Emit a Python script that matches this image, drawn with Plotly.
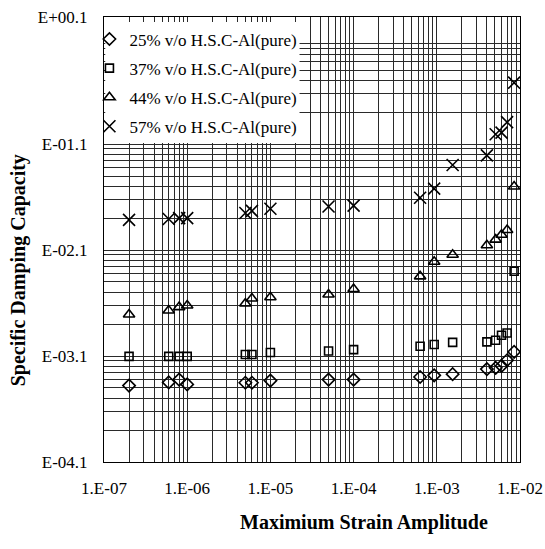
import plotly.graph_objects as go

strain = [2e-7, 6e-7, 8e-7, 1e-6, 5e-6, 6e-6, 1e-5, 5e-5, 1e-4, 6.3e-4, 9.3e-4,
          1.55e-3, 4e-3, 5.1e-3, 6e-3, 7e-3, 8.5e-3]

sdc_25 = [4.18e-4, 4.48e-4, 4.76e-4, 4.29e-4, 4.45e-4, 4.45e-4, 4.66e-4, 4.76e-4, 4.76e-4,
          5.04e-4, 5.22e-4, 5.36e-4, 5.98e-4, 6.15e-4, 6.41e-4, 7.26e-4, 8.69e-4]
sdc_37 = [7.89e-4, 7.89e-4, 7.89e-4, 7.89e-4, 8.22e-4, 8.22e-4, 8.57e-4, 8.87e-4, 9.13e-4,
          9.83e-4, 1.02e-3, 1.07e-3, 1.08e-3, 1.12e-3, 1.25e-3, 1.31e-3, 5.01e-3]
sdc_44 = [1.96e-3, 2.14e-3, 2.30e-3, 2.38e-3, 2.49e-3, 2.77e-3, 2.85e-3, 3.03e-3, 3.41e-3,
          4.49e-3, 6.16e-3, 7.17e-3, 8.82e-3, 9.98e-3, 1.11e-2, 1.23e-2, 3.16e-2]
sdc_57 = [1.53e-2, 1.56e-2, 1.59e-2, 1.59e-2, 1.78e-2, 1.86e-2, 1.95e-2, 2.05e-2, 2.09e-2,
          2.48e-2, 3.02e-2, 5.05e-2, 6.22e-2, 9.86e-2, 1.02e-1, 1.28e-1, 3.02e-1]

series_names = ["25% v/o H.S.C-Al(pure)", "37% v/o H.S.C-Al(pure)",
                "44% v/o H.S.C-Al(pure)", "57% v/o H.S.C-Al(pure)"]

x_tickvals = [1e-7, 1e-6, 1e-5, 1e-4, 1e-3, 1e-2]
x_ticktext = ["1.E-07", "1.E-06", "1.E-05", "1.E-04", "1.E-03", "1.E-02"]
y_exponents = [-4.1, -3.1, -2.1, -1.1, 0.1]
y_ticktext = ["E-04.1", "E-03.1", "E-02.1", "E-01.1", "E+00.1"]

FONT = "Liberation Serif, Times New Roman, serif"
GRID = "#2a2a2a"

y_tickvals = [10 ** e for e in y_exponents]
x_minor = [m * 10 ** n for n in range(-7, -2) for m in range(2, 10)]
y_minor = [m * 10 ** (n - 0.1) for n in range(-4, 0) for m in range(2, 10)]

fig = go.Figure()
styles = [
    dict(symbol="diamond-open", size=9.5),
    dict(symbol="square-open", size=8),
    dict(symbol="triangle-up-open", size=10),
    dict(symbol="x-thin-open", size=12),
]
for name, vals, st in zip(series_names, [sdc_25, sdc_37, sdc_44, sdc_57], styles):
    fig.add_trace(go.Scatter(
        x=strain, y=vals, mode="markers", name=name, legendgroup=name,
        marker=dict(symbol=st["symbol"], size=st["size"], color="black",
                    line=dict(color="black", width=1.6)),
    ))

# white box behind the legend (covers gridlines; no markers lie in this corner)
fig.add_shape(type="rect", xref="paper", yref="paper", x0=0.003, x1=0.47, y0=0.717, y1=0.989,
              fillcolor="white", line=dict(width=0), layer="above")

fig.update_layout(
    width=545, height=549, autosize=False,
    margin=dict(l=104, r=25, t=17, b=87, autoexpand=False),
    paper_bgcolor="white", plot_bgcolor="white",
    font=dict(family=FONT, size=17, color="black"),
    showlegend=True,
    legend=dict(x=-0.035, y=0.99, xanchor="left", yanchor="top",
                bgcolor="rgba(0,0,0,0)", borderwidth=0,
                font=dict(family=FONT, size=17, color="black"),
                tracegroupgap=4, itemwidth=30),
    xaxis=dict(type="log", range=[-7, -2],
               tickmode="array", tickvals=x_tickvals, ticktext=x_ticktext,
               showgrid=True, gridcolor=GRID, gridwidth=1,
               minor=dict(tickmode="array", tickvals=x_minor, showgrid=True,
                          gridcolor=GRID, gridwidth=1, ticks=""),
               showline=True, linecolor="black", linewidth=1, mirror=True,
               ticks="", ticklabelstandoff=11, zeroline=False, automargin=False,
               tickfont=dict(family=FONT, size=17)),
    yaxis=dict(type="log", range=[-4.1, 0.1],
               tickmode="array", tickvals=y_tickvals, ticktext=y_ticktext,
               showgrid=True, gridcolor=GRID, gridwidth=1,
               minor=dict(tickmode="array", tickvals=y_minor, showgrid=True,
                          gridcolor=GRID, gridwidth=1, ticks=""),
               showline=True, linecolor="black", linewidth=1, mirror=True,
               ticks="", ticklabelstandoff=12, zeroline=False, automargin=False,
               tickfont=dict(family=FONT, size=17)),
    annotations=[
        dict(text="<b>Maximium Strain Amplitude</b>", xref="paper", yref="paper",
             x=0.625, y=-0.135, xanchor="center", yanchor="middle", showarrow=False,
             font=dict(family=FONT, size=20, color="black")),
        dict(text="<b>Specific Damping Capacity</b>", xref="paper", yref="paper",
             x=-0.205, y=0.43, xanchor="center", yanchor="middle", showarrow=False,
             textangle=-90, font=dict(family=FONT, size=20, color="black")),
    ],
)

post = ("document.documentElement.style.overflow='hidden';"
        "document.body.style.margin='0';document.body.style.overflow='hidden';")

fig.write_html("out.html",
               config={"displayModeBar": False, "responsive": False},
               post_script=post)
